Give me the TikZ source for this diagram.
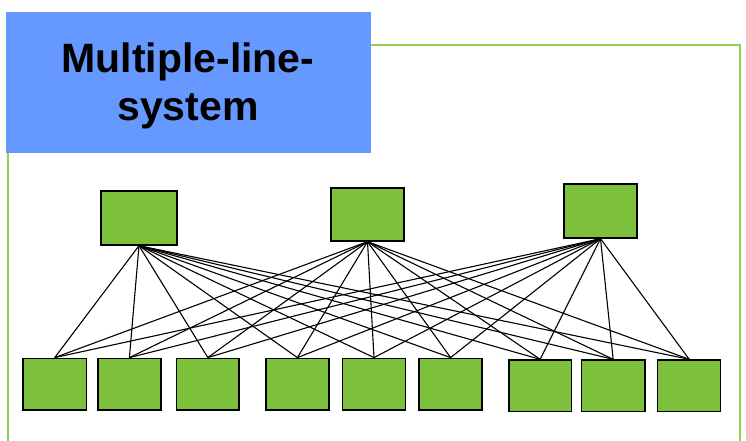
\documentclass[tikz,border=0pt]{standalone}
\usepackage{fontspec}
\setmainfont{Liberation Sans}
\definecolor{boxgreen}{RGB}{124,192,60}
\definecolor{framegreen}{RGB}{146,208,80}
\definecolor{titleblue}{RGB}{102,153,255}
\begin{document}
\begin{tikzpicture}[x=1pt,y=-1pt,
  unit/.style={draw=black,line width=1.4pt,fill=boxgreen,inner sep=0pt},
  link/.style={line width=1.1pt,black}]
\useasboundingbox (0,0) rectangle (746,441);
% frame
\draw[framegreen,line width=1.4pt] (8,450) -- (8,45) -- (740,45) -- (740,450);
% title
\fill[titleblue] (6,12) rectangle (371,153);
\node[anchor=base,font=\fontsize{41}{48}\selectfont\bfseries,inner sep=0pt] (t1) at (188,72.7) {Multiple-line-};
\node[anchor=base,font=\fontsize{41}{48}\selectfont\bfseries,inner sep=0pt] (t2) at (188,120.7) {system};
% top units
\node[unit,minimum width=76pt,minimum height=54pt] (T1) at (139,218) {};
\node[unit,minimum width=73pt,minimum height=53pt] (T2) at (367.5,214.5) {};
\node[unit,minimum width=73pt,minimum height=54pt] (T3) at (600.5,211) {};
% bottom units
\foreach \i/\xa/\xb/\ya/\yb in {1/23/86.4/358.3/410,2/97.9/160.9/358.3/410,3/176.6/239.1/358.3/410,
  4/265.9/328.9/358.3/410,5/342.7/405.3/358.3/410,6/419.1/482.1/358.3/410,
  7/508.8/571.4/360/411.7,8/581.4/644.9/360/411.7,9/657.7/720.7/360/411.7}{
  \pgfmathsetmacro\w{\xb-\xa}
  \pgfmathsetmacro\h{\yb-\ya}
  \node[unit,minimum width=\w pt,minimum height=\h pt] (B\i) at ({(\xa+\xb)/2},{(\ya+\yb)/2}) {};
}
% links
\foreach \t in {1,2,3}{
  \foreach \b in {1,...,9}{
    \draw[link] (T\t.south) -- (B\b.north);
  }
}
\end{tikzpicture}
\end{document}
